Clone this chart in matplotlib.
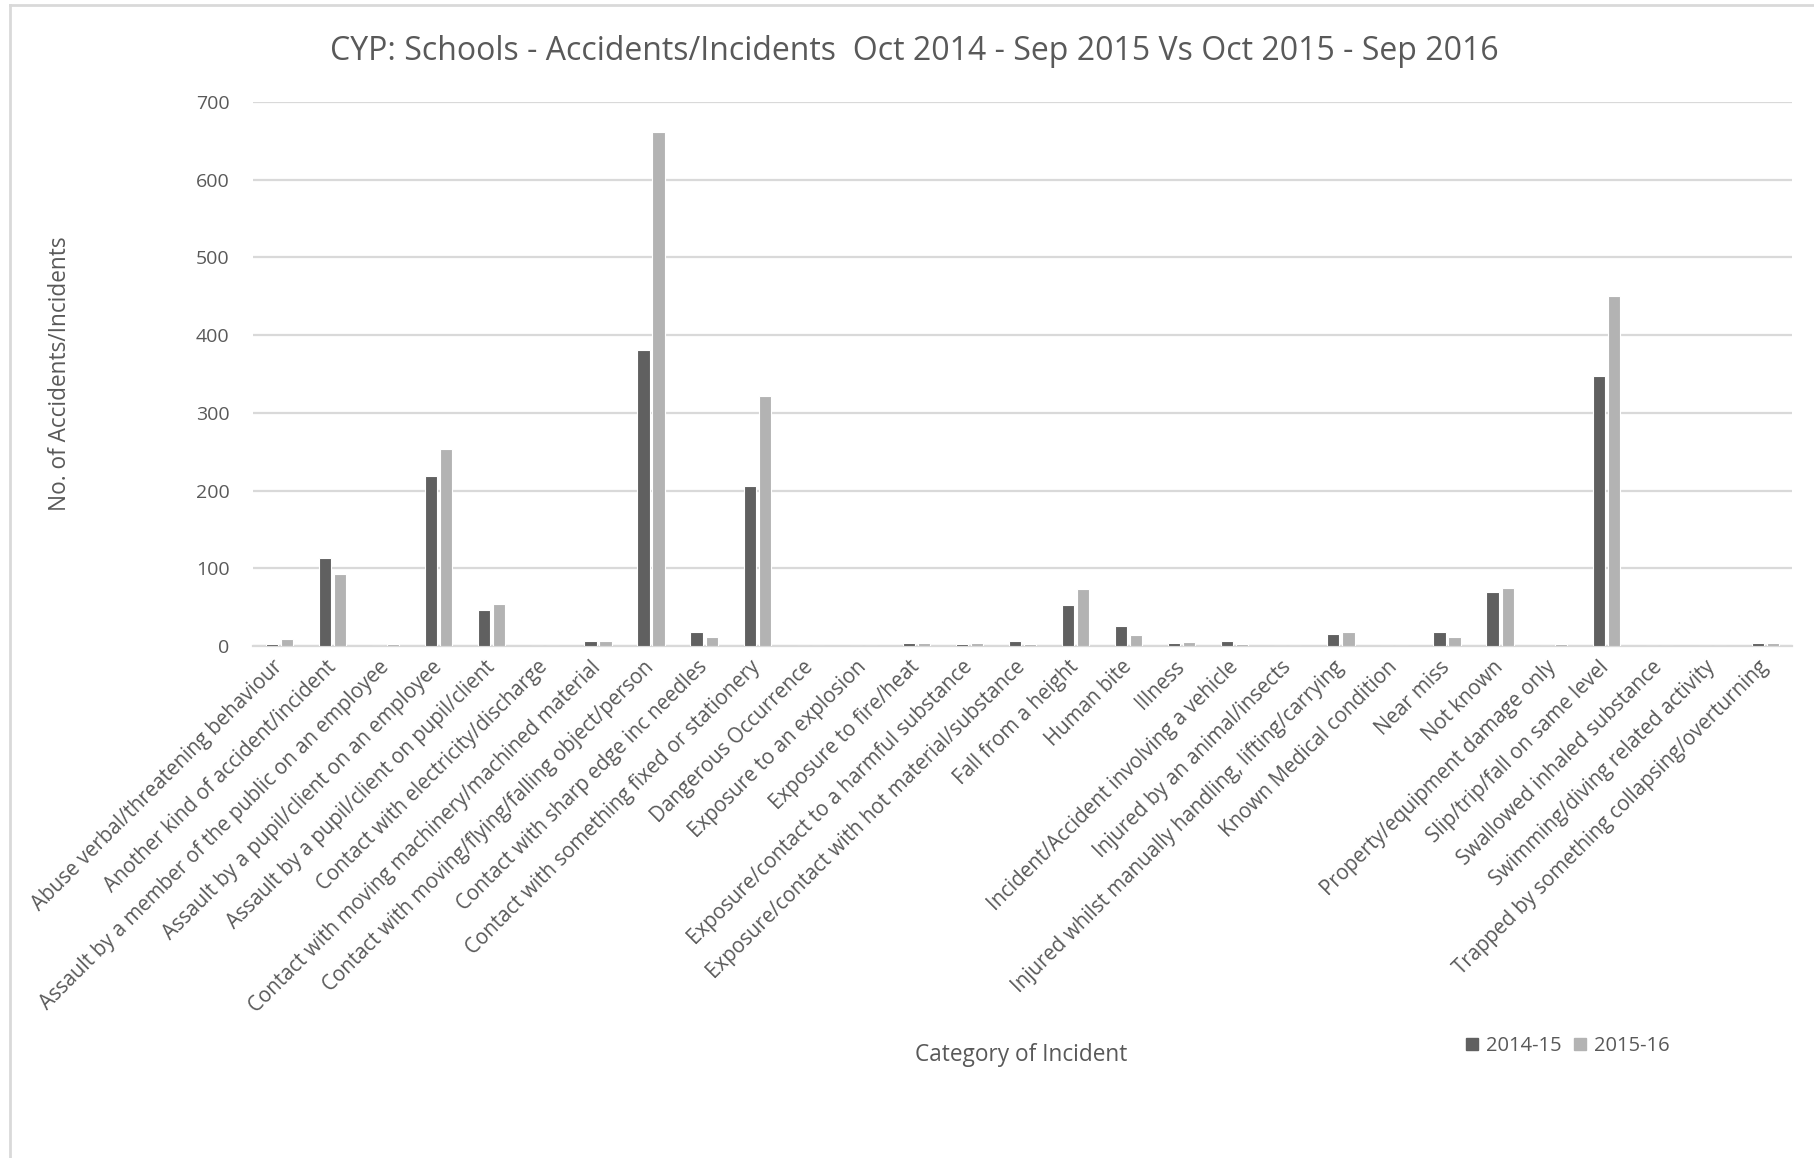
import numpy as np
import matplotlib
matplotlib.use("Agg")
import matplotlib.pyplot as plt
from matplotlib.lines import Line2D

plt.rcParams['font.family'] = ['Open Sans', 'DejaVu Sans']

categories = [
    "Abuse verbal/threatening behaviour",
    "Another kind of accident/incident",
    "Assault by a member of the public on an employee",
    "Assault by a pupil/client on an employee",
    "Assault by a pupil/client on pupil/client",
    "Contact with electricity/discharge",
    "Contact with moving machinery/machined material",
    "Contact with moving/flying/falling object/person",
    "Contact with sharp edge inc needles",
    "Contact with something fixed or stationery",
    "Dangerous Occurrence",
    "Exposure to an explosion",
    "Exposure to fire/heat",
    "Exposure/contact to a harmful substance",
    "Exposure/contact with hot material/substance",
    "Fall from a height",
    "Human bite",
    "Illness",
    "Incident/Accident involving a vehicle",
    "Injured by an animal/insects",
    "Injured whilst manually handling, lifting/carrying",
    "Known Medical condition",
    "Near miss",
    "Not known",
    "Property/equipment damage only",
    "Slip/trip/fall on same level",
    "Swallowed inhaled substance",
    "Swimming/diving related activity",
    "Trapped by something collapsing/overturning",
]

y2014_15 = [3, 113, 0, 219, 46, 0, 7, 381, 18, 206, 0, 0, 4, 3, 7, 53,
            26, 4, 7, 0, 16, 0, 18, 69, 0, 347, 0, 0, 4]
y2015_16 = [9, 93, 3, 253, 54, 0, 7, 662, 12, 322, 0, 0, 4, 4, 3, 73,
            14, 5, 3, 0, 18, 0, 12, 74, 3, 451, 0, 0, 4]

series_labels = ["2014-15", "2015-16"]
colors = ["#606060", "#b3b3b3"]
text_col = "#595959"
grid_col = "#d9d9d9"

W, H = 1814, 1158
fig = plt.figure(figsize=(W / 100, H / 100), dpi=100)
ax = fig.add_axes([253 / W, 1 - 646 / H, (1792 - 253) / W, (646 - 102) / H])

x = np.arange(len(categories))
off = 0.142
bw = 0.23
ax.bar(x - off, y2014_15, bw, color=colors[0], edgecolor="white", linewidth=0.8, zorder=3)
ax.bar(x + off, y2015_16, bw, color=colors[1], edgecolor="white", linewidth=0.8, zorder=3)

ax.set_xlim(-0.5, len(categories) - 0.5)
ax.set_ylim(0, 700)
ax.set_yticks(range(0, 701, 100))
ax.yaxis.grid(True, color=grid_col, linewidth=1.6, zorder=0)
ax.set_axisbelow(True)
for s in ["top", "right", "left"]:
    ax.spines[s].set_visible(False)
ax.spines["bottom"].set_color(grid_col)
ax.spines["bottom"].set_linewidth(1.6)
ax.tick_params(axis="both", length=0, colors=text_col, labelsize=14)
ax.tick_params(axis="y", pad=17)
ax.set_xticks(x)
ax.set_xticklabels(categories, rotation=45, ha="right", va="center",
                   rotation_mode="anchor", color=text_col, fontsize=14.8)
ax.tick_params(axis="x", pad=13)

fig.text(914 / W, 1 - 52 / H, "CYP: Schools - Accidents/Incidents  Oct 2014 - Sep 2015 Vs Oct 2015 - Sep 2016",
         ha="center", va="center", fontsize=23, color=text_col)
fig.text(60 / W, 1 - 374 / H, "No. of Accidents/Incidents", rotation=90,
         ha="center", va="center", fontsize=16.3, color=text_col)
fig.text(1021 / W, 1 - 1055 / H, "Category of Incident",
         ha="center", va="center", fontsize=16.3, color=text_col)

handles = [plt.Rectangle((0, 0), 1, 1, color=c) for c in colors]
fig.legend(handles, series_labels, loc="center", bbox_to_anchor=(1568 / W, 1 - 1046 / H),
           ncol=2, frameon=False, fontsize=14.5, handlelength=0.6, handleheight=0.6,
           handletextpad=0.4, columnspacing=0.6, labelcolor=text_col)

# chart border (top and left edges visible in the crop)
fig.add_artist(Line2D([10 / W, 1], [1 - 5 / H, 1 - 5 / H], color=grid_col, lw=2))
fig.add_artist(Line2D([10 / W, 10 / W], [0, 1 - 5 / H], color=grid_col, lw=2))

fig.savefig("out.png", dpi=100, facecolor="white")
